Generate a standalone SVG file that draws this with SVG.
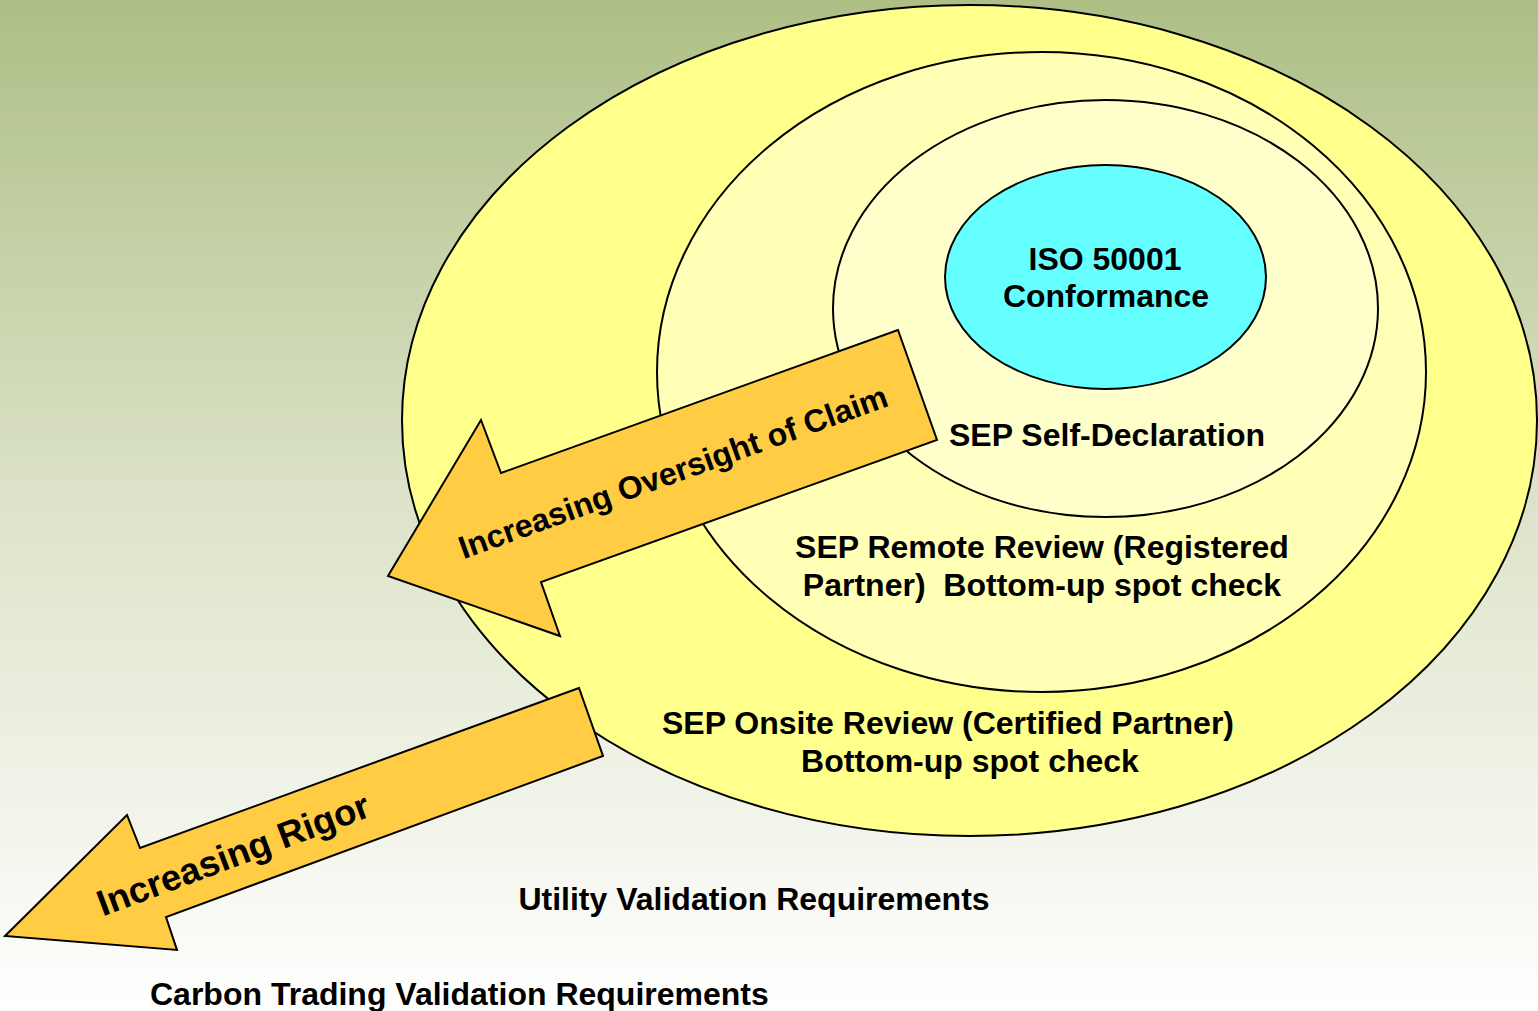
<svg xmlns="http://www.w3.org/2000/svg" width="1538" height="1011" viewBox="0 0 1538 1011">
<defs>
<linearGradient id="bg" x1="0" y1="0" x2="0" y2="1">
<stop offset="0" stop-color="#adbf85"/>
<stop offset="0.5" stop-color="#dde3c9"/>
<stop offset="1" stop-color="#ffffff"/>
</linearGradient>
</defs>
<style>
.ring{stroke:#000;stroke-width:2}
.arrow{fill:#ffcc44;stroke:#000;stroke-width:2;stroke-linejoin:miter}
text{font-family:"Liberation Sans",Arial,sans-serif;font-weight:bold;fill:#000}
.lbl{font-size:32px;text-anchor:middle}
</style>
<rect x="0" y="0" width="1538" height="1011" fill="url(#bg)"/>
<g id="outer-ring">
<ellipse class="ring" cx="969.5" cy="420.5" rx="567.5" ry="415.5" fill="#ffff8c"/>
</g>
<g id="second-ring">
<ellipse class="ring" cx="1041.5" cy="372" rx="384.5" ry="320" fill="#ffffb6"/>
</g>
<g id="third-ring">
<ellipse class="ring" cx="1105.5" cy="308.5" rx="272.5" ry="208.5" fill="#ffffcc"/>
</g>
<g id="iso-core">
<ellipse class="ring" cx="1105.5" cy="277" rx="160.5" ry="112" fill="#66ffff"/>
<text class="lbl" x="1105" y="270">ISO 50001</text>
<text class="lbl" x="1106" y="307">Conformance</text>
</g>
<g id="connectors">
<g id="arrow-oversight">
<polygon class="arrow" points="898,330 501,473 481,420 388,576 560,636 541,582 937,440"/>
<text transform="rotate(-19.8 673 472)" x="673" y="483" font-size="32" text-anchor="middle">Increasing Oversight of Claim</text>
</g>
<g id="arrow-rigor">
<polygon class="arrow" points="579,688 140,848 127,815 5,936 177,950 166,917 603,756"/>
<text transform="rotate(-20.5 233 854)" x="233" y="867" font-size="36.5" text-anchor="middle">Increasing Rigor</text>
</g>
</g>
<g id="label-self">
<text class="lbl" x="1107" y="446">SEP Self-Declaration</text>
</g>
<g id="label-remote">
<text class="lbl" x="1042" y="558">SEP Remote Review (Registered</text>
<text class="lbl" x="1042" y="596" xml:space="preserve">Partner)  Bottom-up spot check</text>
</g>
<g id="label-onsite">
<text class="lbl" x="948" y="734">SEP Onsite Review (Certified Partner)</text>
<text class="lbl" x="970" y="772">Bottom-up spot check</text>
</g>
<g id="label-utility">
<text class="lbl" x="754" y="910">Utility Validation Requirements</text>
</g>
<g id="label-carbon">
<text x="150" y="1005" font-size="32">Carbon Trading Validation Requirements</text>
</g>
</svg>
